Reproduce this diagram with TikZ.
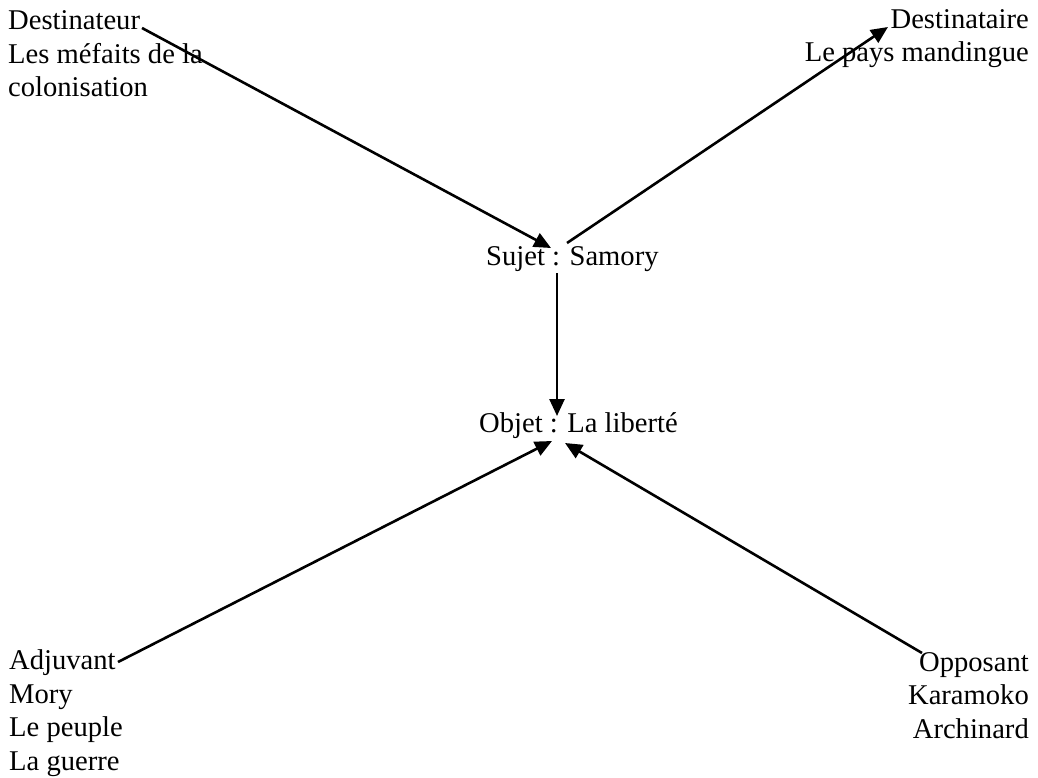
\documentclass[tikz,border=0pt]{standalone}
\usepackage{fontspec}
\setmainfont{Liberation Serif}
\usetikzlibrary{arrows.meta}
\begin{document}
\begin{tikzpicture}[x=1pt,y=-1pt,
  lbl/.style={inner sep=0pt, font=\fontsize{28.6}{33.5}\selectfont},
  conn/.style={line width=2.6pt, -{Triangle[length=17pt,width=15pt]}}]
\useasboundingbox (0,0) rectangle (1038,778);
\node[lbl, anchor=base west, align=left] (dtr) at (8,97) {Destinateur\\Les méfaits de la\\colonisation};
\node[lbl, anchor=base east, align=right] (dta) at (1029,62) {Destinataire\\Le pays mandingue};
\node[lbl, anchor=base west] (suj) at (486,265) {Sujet : Samory};
\node[lbl, anchor=base west] (obj) at (479,432) {Objet : La liberté};
\node[lbl, anchor=base west, align=left] (adj) at (9,770) {Adjuvant\\Mory\\Le peuple\\La guerre};
\node[lbl, anchor=base east, align=right] (opp) at (1029,738) {Opposant\\Karamoko\\Archinard};
\coordinate (dtrE) at (142,28);
\coordinate (sujIn) at (551,248);
\coordinate (sujOut) at (567,243);
\coordinate (dtaIn) at (888,27);
\coordinate (sujB) at (557,273);
\coordinate (objT) at (557,416);
\coordinate (adjE) at (118,662);
\coordinate (objL) at (552,441);
\coordinate (oppW) at (922,653);
\coordinate (objR) at (565,443);
\draw[conn] (dtrE) -- (sujIn);
\draw[conn] (sujOut) -- (dtaIn);
\draw[conn] (sujB) -- (objT);
\draw[conn] (adjE) -- (objL);
\draw[conn] (oppW) -- (objR);
\end{tikzpicture}
\end{document}
